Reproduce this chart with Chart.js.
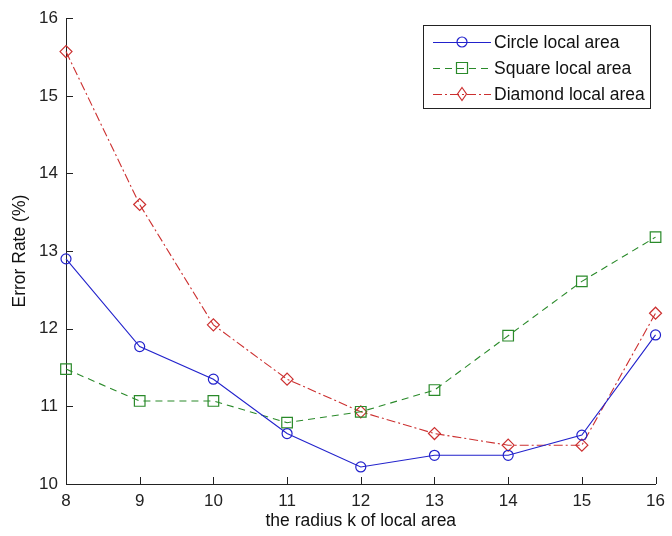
<!DOCTYPE html>
<html>
<head>
<meta charset="utf-8">
<script src="https://cdn.jsdelivr.net/npm/chart.js@4"></script>
<style>
  html, body { margin: 0; padding: 0; background: #fff; }
  #wrap { width: 672px; height: 536px; }
</style>
</head>
<body>
<div id="wrap"><canvas id="c" width="672" height="536"></canvas></div>
<script>
// Radius k of the local area
const radii = [8, 9, 10, 11, 12, 13, 14, 15, 16];
// Error rate (%) per local-area shape
const circleErr  = [12.90, 11.77, 11.35, 10.65, 10.22, 10.37, 10.37, 10.63, 11.92];
const squareErr  = [11.48, 11.07, 11.07, 10.79, 10.93, 11.21, 11.91, 12.61, 13.18];
const diamondErr = [15.57, 13.60, 12.05, 11.35, 10.93, 10.65, 10.50, 10.50, 12.20];
const seriesNames = ['Circle local area', 'Square local area', 'Diamond local area'];
const yTicks = [10, 11, 12, 13, 14, 15, 16];
const xTicks = radii;

const FONT = 'Liberation Sans, Arial, sans-serif';
const BLUE = '#2222cc', GREEN = '#2a8a2a', RED = '#cc3030';

function pts(vals) { return radii.map((x, i) => ({ x: x, y: vals[i] })); }

// Inward tick marks on the left and bottom axes
const inwardTicks = {
  id: 'inwardTicks',
  afterDatasetsDraw(chart) {
    const { ctx, scales: { x, y } } = chart;
    ctx.save();
    ctx.strokeStyle = '#222';
    ctx.lineWidth = 1;
    ctx.beginPath();
    xTicks.forEach(v => {
      const px = Math.round(x.getPixelForValue(v)) + 0.5;
      ctx.moveTo(px, y.bottom); ctx.lineTo(px, y.bottom - 7);
    });
    yTicks.forEach(v => {
      const py = Math.round(y.getPixelForValue(v)) + 0.5;
      ctx.moveTo(x.left, py); ctx.lineTo(x.left + 7, py);
    });
    ctx.stroke();
    ctx.restore();
  }
};

function drawMarker(ctx, style, cx, cy, color) {
  ctx.save();
  ctx.strokeStyle = color;
  ctx.lineWidth = 1.2;
  ctx.setLineDash([]);
  ctx.beginPath();
  if (style === 'circle') {
    ctx.arc(cx, cy, 5, 0, Math.PI * 2);
  } else if (style === 'rect') {
    ctx.rect(cx - 5.5, cy - 5.5, 11, 11);
  } else {
    ctx.moveTo(cx, cy - 6.5); ctx.lineTo(cx + 4.5, cy);
    ctx.lineTo(cx, cy + 6.5); ctx.lineTo(cx - 4.5, cy); ctx.closePath();
  }
  ctx.stroke();
  ctx.restore();
}

// Boxed legend in the upper right of the plot
const boxLegend = {
  id: 'boxLegend',
  afterDraw(chart) {
    const ctx = chart.ctx;
    const bx = 423, by = 25, bw = 227, bh = 83;
    ctx.save();
    ctx.fillStyle = '#fff';
    ctx.fillRect(bx, by, bw, bh);
    ctx.strokeStyle = '#222';
    ctx.lineWidth = 1;
    ctx.strokeRect(bx + 0.5, by + 0.5, bw, bh);
    const rowsY = [42, 68, 94];
    chart.data.datasets.forEach((ds, i) => {
      const yy = rowsY[i];
      ctx.strokeStyle = ds.borderColor;
      ctx.lineWidth = 1;
      ctx.setLineDash(ds.borderDash || []);
      ctx.beginPath();
      ctx.moveTo(433, yy + 0.5); ctx.lineTo(491, yy + 0.5);
      ctx.stroke();
      drawMarker(ctx, ds.pointStyle, 462, yy, ds.borderColor);
      ctx.setLineDash([]);
      ctx.fillStyle = '#111';
      ctx.font = '17.5px ' + FONT;
      ctx.textBaseline = 'middle';
      ctx.textAlign = 'left';
      ctx.fillText(ds.label, 494, yy + 1);
    });
    ctx.restore();
  }
};

function makeDataset(label, vals, color, style, dash) {
  return {
    label: label,
    data: pts(vals),
    borderColor: color,
    backgroundColor: 'rgba(0,0,0,0)',
    borderWidth: 1.1,
    borderDash: dash,
    pointStyle: style,
    pointRadius: style === 'rect' ? 7.5 : (style === 'rectRot' ? 6 : 5),
    pointBorderWidth: 1.2,
    pointBorderColor: color,
    pointBackgroundColor: 'rgba(0,0,0,0)',
    tension: 0,
    fill: false,
    clip: false
  };
}

new Chart(document.getElementById('c'), {
  type: 'line',
  data: {
    datasets: [
      makeDataset(seriesNames[0], circleErr, BLUE, 'circle', []),
      makeDataset(seriesNames[1], squareErr, GREEN, 'rect', [7, 5]),
      makeDataset(seriesNames[2], diamondErr, RED, 'rectRot', [9, 3, 2, 3])
    ]
  },
  options: {
    responsive: false,
    animation: false,
    devicePixelRatio: 1,
    layout: { padding: { top: 15, right: 11, left: 0, bottom: 0 } },
    plugins: {
      legend: { display: false },
      tooltip: { enabled: false }
    },
    scales: {
      x: {
        type: 'linear',
        min: 8, max: 16,
        afterFit(s) { s.height = 52; },
        afterBuildTicks(s) { s.ticks = xTicks.map(v => ({ value: v })); },
        grid: { display: false, drawTicks: false },
        border: { display: true, color: '#222', width: 1 },
        ticks: { color: '#222', padding: 7, font: { family: FONT, size: 17 }, maxRotation: 0 },
        title: { display: true, text: 'the radius k of local area', color: '#111',
                 font: { family: FONT, size: 17.5 }, padding: { top: 0, bottom: 4 } }
      },
      y: {
        type: 'linear',
        min: 10, max: 16,
        afterFit(s) { s.width = 66; },
        afterBuildTicks(s) { s.ticks = yTicks.map(v => ({ value: v })); },
        grid: { display: false, drawTicks: false },
        border: { display: true, color: '#222', width: 1 },
        ticks: { color: '#222', padding: 8, font: { family: FONT, size: 17 } },
        title: { display: true, text: 'Error Rate (%)', color: '#111',
                 font: { family: FONT, size: 17.5 }, padding: { top: 10, bottom: 0 } }
      }
    }
  },
  plugins: [inwardTicks, boxLegend]
});
</script>
</body>
</html>
